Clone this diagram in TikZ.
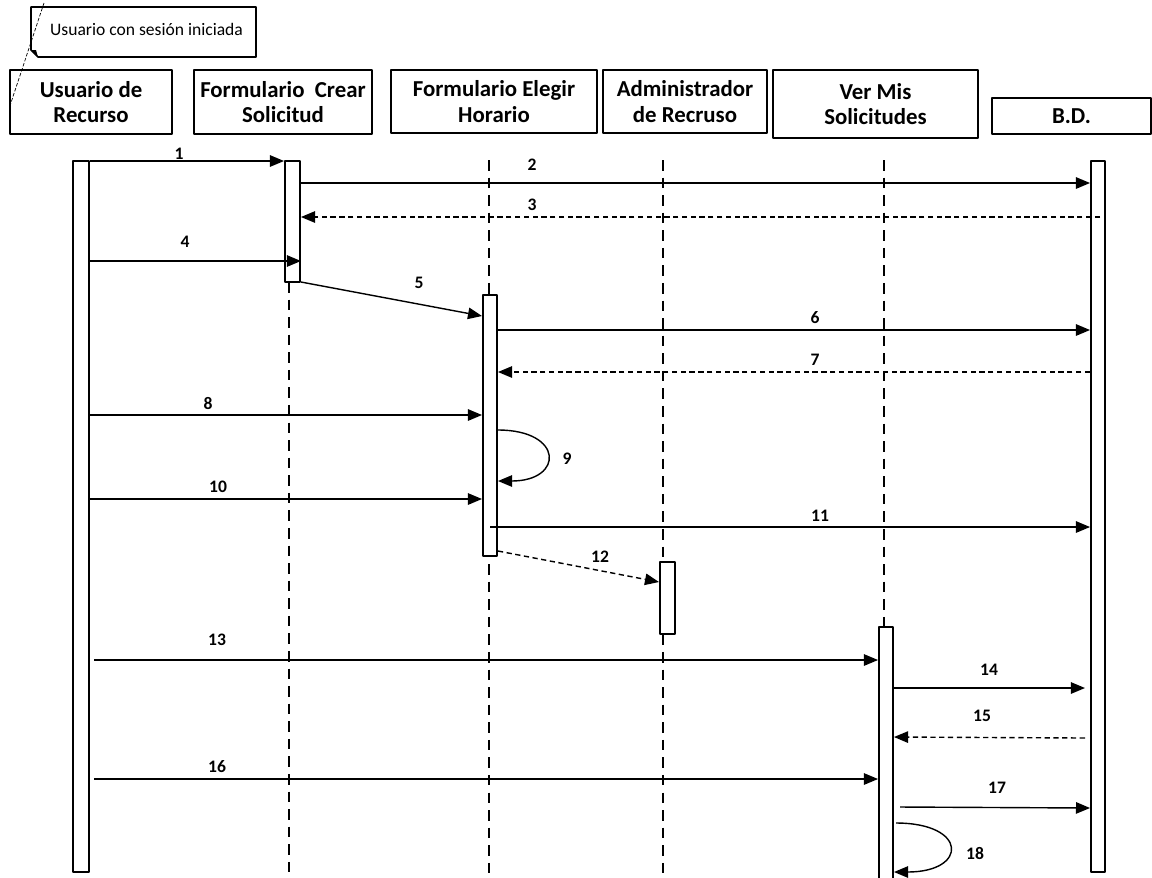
\documentclass[tikz,border=0pt]{standalone}
\usepackage{fontspec}
\setmainfont{Carlito}
\usetikzlibrary{arrows.meta,fit}
\tikzset{
  hdr/.style={draw, line width=0.9pt, align=center, inner sep=0pt,
    font=\fontsize{13}{14.5}\selectfont\bfseries},
  act/.style={draw, line width=1.1pt, fill=white, inner sep=0pt, fit={#1}},
  life/.style={line width=0.8pt, dash pattern=on 6pt off 4pt},
  msg/.style={line width=0.8pt, -{Triangle[length=8pt,width=6.5pt]}},
  ret/.style={msg, dash pattern=on 3pt off 2pt},
  lbl/.style={font=\fontsize{10}{12}\selectfont\bfseries, inner sep=1pt}
}
\begin{document}
\begin{tikzpicture}[x=0.02cm, y=-0.02cm, line join=round]
\useasboundingbox (0,0) rectangle (1152,877);
% headers
\node[hdr, minimum width=3.24cm, minimum height=1.28cm] (hU) at (91,102) {Usuario de\\Recurso};
\node[hdr, minimum width=3.56cm, minimum height=1.28cm] (hC) at (283,102) {Formulario~ Crear\\Solicitud};
\node[hdr, minimum width=4.12cm, minimum height=1.27cm] (hE) at (494,101.5) {Formulario Elegir\\Horario};
\node[hdr, minimum width=3.28cm, minimum height=1.27cm] (hA) at (685,101.5) {Administrador\\de Recruso};
\node[hdr, minimum width=4.1cm, minimum height=1.36cm] (hV) at (875.5,104) {Ver Mis\\Solicitudes};
\node[hdr, minimum width=3.18cm, minimum height=0.72cm] (hB) at (1071.5,116) {B.D.};
% note
\draw[line width=0.9pt] (31,7) -- (256,7) -- (256,57) -- (38,57) -- (31,50) -- cycle;
\fill (31,50) -- (36,50) -- (38,57) -- cycle;
\node[font=\fontsize{10}{12}\selectfont, anchor=west] (nt) at (44,29) {Usuario con sesión iniciada};
\coordinate (nTop) at (44,3);
\draw[line width=0.4pt, dash pattern=on 2pt off 1pt] (nTop) -- (hU.west |- 0,108);
% lifelines
\draw[life] (289,282) -- (289,877);
\draw[life] (489,160) -- (489,877);
\draw[life] (663,160) -- (663,877);
\draw[life] (884,160) -- (884,627);
% activations
\node[act={(73,161) (89,872)}] (aU) {};
\node[act={(285,161) (300,282)}] (aC) {};
\node[act={(483,295) (497,556)}] (aE) {};
\node[act={(660,562) (675,634)}] (aA) {};
\node[act={(879,627) (893,890)}] (aV) {};
\node[act={(1091,161) (1105,872)}] (aB) {};
% messages
\draw[msg] (aU.east |- 0,161) -- (aC.west |- 0,161);
\draw[msg] (aC.east |- 0,183) -- (aB.west |- 0,183);
\draw[ret] (1100,217) -- (aC.east |- 0,217);
\draw[msg] (aU.east |- 0,261) -- (aC.east |- 0,261);
\draw[msg] (aC.east |- 0,282) -- (aE.west |- 0,316);
\draw[msg] (aE.east |- 0,330) -- (aB.west |- 0,330);
\draw[ret] (aB.west |- 0,372) -- (aE.east |- 0,372);
\draw[msg] (aU.east |- 0,415) -- (aE.west |- 0,415);
\draw[msg] (aE.east |- 0,430) .. controls (564,430) and (564,481) .. (aE.east |- 0,481);
\draw[msg] (aU.east |- 0,499) -- (aE.west |- 0,499);
\draw[msg] (490,527) -- (aB.west |- 0,527);
\draw[ret] (aE.east |- 0,551) -- (aA.west |- 0,582);
\draw[msg] (94,660) -- (aV.west |- 0,660);
\draw[msg] (aV.east |- 0,688) -- (1085,688);
\draw[ret] (1085,738) -- (aV.east |- 0,737);
\draw[msg] (94,779) -- (aV.west |- 0,779);
\draw[msg] (900,807) -- (aB.west |- 0,808);
\draw[msg] (896,823) .. controls (968,823) and (968,872) .. (aV.east |- 0,872);
% labels
\node[lbl] (l1) at (179,154) {1};
\node[lbl] (l2) at (532,165) {2};
\node[lbl] (l3) at (532,205) {3};
\node[lbl] (l4) at (185,242) {4};
\node[lbl] (l5) at (419,283) {5};
\node[lbl] (l6) at (815,318) {6};
\node[lbl] (l7) at (815,360) {7};
\node[lbl] (l8) at (208,403) {8};
\node[lbl] (l9) at (567,459) {9};
\node[lbl] (l10) at (218,487) {10};
\node[lbl] (l11) at (820,516) {11};
\node[lbl] (l12) at (600,557) {12};
\node[lbl] (l13) at (217,640) {13};
\node[lbl] (l14) at (989,670) {14};
\node[lbl] (l15) at (982,716) {15};
\node[lbl] (l16) at (217,767) {16};
\node[lbl] (l17) at (997,788) {17};
\node[lbl] (l18) at (975,853) {18};
\end{tikzpicture}
\end{document}
